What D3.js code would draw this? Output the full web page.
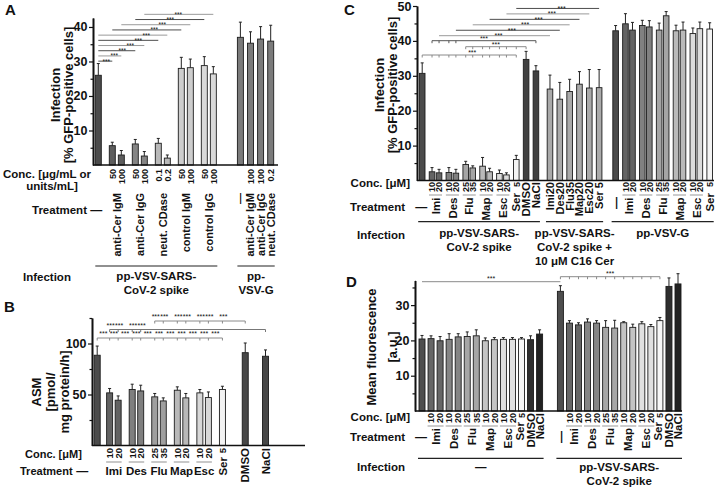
<!DOCTYPE html>
<html>
<head>
<meta charset="utf-8">
<script src="https://cdn.jsdelivr.net/npm/d3@7"></script>
<style>
  body { margin: 0; background: #fff; }
  svg text { font-family: "Liberation Sans", Arial, Helvetica, sans-serif; font-weight: bold; fill: #111; }
</style>
</head>
<body>
<svg id="fig" width="719" height="488"></svg>
<script>
// ---------------- data ----------------
// Panel A
const aTreatment = ["—", "anti-Cer IgM", "anti-Cer IgM", "anti-Cer IgG", "anti-Cer IgG", "neut. CDase", "neut. CDase",
  "control IgM", "control IgM", "control IgG", "control IgG", "—", "anti-Cer IgM", "anti-Cer IgG", "neut. CDase"];
const aConc = ["", "50", "100", "50", "100", "0.1", "0.2", "50", "100", "50", "100", "", "100", "100", "0.2"];
const aInfection = ["spike", "spike", "spike", "spike", "spike", "spike", "spike", "spike", "spike", "spike", "spike",
  "G", "G", "G", "G"];
const aMean = [26.0, 5.6, 2.9, 6.1, 2.6, 6.3, 2.0, 28.0, 28.2, 28.8, 26.4, 37.0, 35.3, 36.5, 35.9];
const aErr = [3.4, 1.0, 1.3, 1.3, 1.3, 1.4, 0.9, 3.2, 2.5, 2.6, 2.1, 4.4, 3.3, 3.6, 4.6];
const aPairs = [[0, 1], [0, 2], [0, 3], [0, 4], [0, 5], [0, 6], [1, 7], [2, 8], [3, 9], [4, 10]];
const aInfectionNames = { spike: ["pp-VSV-SARS-", "CoV-2 spike"], G: ["pp-", "VSV-G"] };

// Panel B
const bTreatment = ["—", "Imi", "Imi", "Des", "Des", "Flu", "Flu", "Map", "Map", "Esc", "Esc", "Ser", "DMSO", "NaCl"];
const bConc = ["", "10", "20", "10", "20", "25", "35", "10", "20", "10", "20", "5", "", ""];
const bKind = ["ctrl", "drug", "drug", "drug", "drug", "drug", "drug", "drug", "drug", "drug", "drug", "drug", "vehicle", "vehicle"];
const bMean = [88.5, 51.6, 44.4, 54.9, 53.5, 47.7, 43.7, 54.2, 46.7, 51.6, 47.0, 54.9, 91.0, 87.5];
const bErr = [9.0, 4.3, 4.2, 5.2, 5.6, 3.3, 3.0, 3.3, 4.3, 3.3, 5.5, 3.2, 9.5, 6.2];

// Panel C
const cTreatment = ["—", "Imi", "Imi", "Des", "Des", "Flu", "Flu", "Map", "Map", "Esc", "Esc", "Ser", "DMSO", "NaCl",
  "Imi", "Des", "Flu", "Map", "Esc", "Ser",
  "—", "Imi", "Imi", "Des", "Des", "Flu", "Flu", "Map", "Map", "Esc", "Esc", "Ser"];
const cConc = ["", "10", "20", "10", "20", "25", "35", "10", "20", "10", "20", "5", "", "",
  "20", "20", "35", "20", "20", "5",
  "", "10", "20", "10", "20", "25", "35", "10", "20", "10", "20", "5"];
const cInfection = ["spike", "spike", "spike", "spike", "spike", "spike", "spike", "spike", "spike", "spike", "spike", "spike", "spike", "spike",
  "cer", "cer", "cer", "cer", "cer", "cer",
  "G", "G", "G", "G", "G", "G", "G", "G", "G", "G", "G", "G"];
const cMean = [30.7, 2.5, 2.2, 2.3, 2.1, 4.6, 3.6, 4.1, 2.5, 2.0, 1.6, 6.0, 34.7, 31.4,
  26.2, 23.3, 25.5, 27.6, 26.5, 26.6,
  42.9, 44.9, 43.1, 44.4, 44.0, 43.1, 47.2, 42.9, 43.1, 42.1, 43.5, 43.4];
const cErr = [3.0, 1.2, 1.0, 1.4, 1.1, 0.9, 0.6, 2.5, 1.0, 1.0, 0.6, 1.2, 2.3, 1.5,
  4.0, 4.8, 3.5, 3.6, 5.3, 5.2,
  1.5, 2.9, 2.2, 1.5, 1.8, 2.0, 1.2, 1.6, 2.3, 1.6, 1.9, 1.8];
const cInfectionNames = { spike: ["pp-VSV-SARS-", "CoV-2 spike"], cer: ["pp-VSV-SARS-", "CoV-2 spike +", "10 μM C16 Cer"], G: ["pp-VSV-G"] };

// Panel D
const dTreatment = ["—", "Imi", "Imi", "Des", "Des", "Flu", "Flu", "Map", "Map", "Esc", "Esc", "Ser", "DMSO", "NaCl",
  "—", "Imi", "Imi", "Des", "Des", "Flu", "Flu", "Map", "Map", "Esc", "Esc", "Ser", "DMSO", "NaCl"];
const dConc = ["", "10", "20", "10", "20", "25", "35", "10", "20", "10", "20", "5", "", "",
  "", "10", "20", "10", "20", "25", "35", "10", "20", "10", "20", "5", "", ""];
const dInfection = ["none", "none", "none", "none", "none", "none", "none", "none", "none", "none", "none", "none", "none", "none",
  "spike", "spike", "spike", "spike", "spike", "spike", "spike", "spike", "spike", "spike", "spike", "spike", "spike", "spike"];
const dMean = [20.4, 20.5, 19.9, 20.3, 21.0, 21.1, 21.3, 19.9, 20.2, 20.3, 20.3, 20.4, 20.2, 21.8,
  33.9, 24.9, 24.4, 25.2, 24.9, 23.7, 23.5, 25.0, 23.7, 24.7, 23.9, 25.6, 35.3, 36.0];
const dErr = [1.0, 0.8, 1.2, 1.6, 0.9, 1.3, 1.7, 0.8, 0.6, 0.5, 0.5, 0.4, 1.1, 1.2,
  1.6, 0.7, 0.6, 0.9, 0.7, 1.9, 2.2, 0.3, 0.9, 0.6, 0.6, 0.9, 2.4, 2.9];
const dInfectionNames = { none: ["—"], spike: ["pp-VSV-SARS-", "CoV-2 spike"] };

// ---------------- helpers ----------------
const svg = d3.select("#fig");

// slot index of every bar: one unit per bar, extra room where the treatment or the infection changes
function slotsOf(treat, block, groupGap, blockGap) {
  let cur = 0;
  return treat.map((t, i) => {
    if (i > 0) {
      cur += 1;
      if (block[i] !== block[i - 1]) cur += blockGap[block[i]];
      else if (t !== treat[i - 1]) cur += groupGap[block[i]];
    }
    return cur;
  });
}

function groupsOf(treat, block) {
  const out = [];
  treat.forEach((t, i) => {
    const last = out[out.length - 1];
    if (last && last.t === t && last.b === block[i]) last.idx.push(i);
    else out.push({ t, b: block[i], idx: [i] });
  });
  return out;
}

function blocksOf(block) {
  const out = [];
  block.forEach((b, i) => {
    const last = out[out.length - 1];
    if (last && last.b === b) last.idx.push(i);
    else out.push({ b, idx: [i] });
  });
  return out;
}

function txt(g, x, y, s, size, anchor = "middle") {
  return g.append("text").attr("x", x).attr("y", y).attr("text-anchor", anchor)
    .style("font-size", size + "px").text(s);
}

// rotated text, reading bottom to top, its end at yTop
function vtxt(g, x, yTop, s, size) {
  return g.append("text").attr("transform", `translate(${x},${yTop}) rotate(-90)`)
    .attr("text-anchor", "end").attr("dy", "0.36em").style("font-size", size + "px").text(s);
}

function yTitle(g, lines, xs, yc, size) {
  lines.forEach((l, i) => g.append("text").attr("transform", `translate(${xs[i]},${yc}) rotate(-90)`)
    .attr("text-anchor", "middle").style("font-size", size + "px").text(l));
}

function yAxis(g, y, x0, major, minor) {
  const minorG = g.append("g").attr("transform", `translate(${x0},0)`)
    .call(d3.axisLeft(y).tickValues(minor).tickSize(2.5).tickSizeOuter(0).tickFormat(""));
  const majorG = g.append("g").attr("transform", `translate(${x0},0)`)
    .call(d3.axisLeft(y).tickValues(major).tickSize(4).tickSizeOuter(0).tickPadding(1.5));
  [minorG, majorG].forEach(a => {
    a.select(".domain").attr("stroke", "#111").attr("stroke-width", 1.6);
    a.selectAll(".tick line").attr("stroke", "#111").attr("stroke-width", 1.2);
  });
  majorG.selectAll(".tick text").style("font-size", "12.5px").attr("fill", "#111");
}

function bars(g, x, y, slots, mean, err, color, w) {
  const rows = mean.map((m, i) => ({ m, e: err[i], s: slots[i], i }));
  g.append("g").selectAll("rect").data(rows).join("rect")
    .attr("x", d => x(d.s) - w / 2).attr("width", w)
    .attr("y", d => y(d.m)).attr("height", d => y(0) - y(d.m))
    .attr("fill", d => color(d.i)).attr("stroke", "#1c1c1c").attr("stroke-width", 0.9);
  const eg = g.append("g").attr("stroke", "#222").attr("stroke-width", 1);
  eg.selectAll("line.v").data(rows).join("line").attr("class", "v")
    .attr("x1", d => x(d.s)).attr("x2", d => x(d.s))
    .attr("y1", d => y(d.m)).attr("y2", d => y(d.m + d.e));
  eg.selectAll("line.c").data(rows).join("line").attr("class", "c")
    .attr("x1", d => x(d.s) - 1.5).attr("x2", d => x(d.s) + 1.5)
    .attr("y1", d => y(d.m + d.e)).attr("y2", d => y(d.m + d.e));
}

function xLine(g, x0, x1, yy) {
  g.append("line").attr("x1", x0).attr("x2", x1).attr("y1", yy).attr("y2", yy)
    .attr("stroke", "#111").attr("stroke-width", 1.6);
}

function stars(g, cx, ly, size = 7) {
  txt(g, cx, ly + 2.4, "***", size).style("font-weight", "normal").attr("fill", "#555");
}

function sigLine(g, x0, x1, ly, col, ticks = []) {
  g.append("line").attr("x1", x0).attr("x2", x1).attr("y1", ly).attr("y2", ly)
    .attr("stroke", col).attr("stroke-width", 1);
  ticks.forEach(tx => g.append("line").attr("x1", tx).attr("x2", tx).attr("y1", ly).attr("y2", ly + 2.5)
    .attr("stroke", col).attr("stroke-width", 1));
}

const sigCols = ["#4d4d4d", "#9a9a9a"];

// =============== Panel A ===============
(function () {
  const g = svg.append("g");
  const s = slotsOf(aTreatment, aInfection, { spike: 0.55, G: 0.12 }, { G: 2.0 });
  const x = d3.scaleLinear().domain([0, d3.max(s)]).range([98.3, 270.7]);
  const y = d3.scaleLinear().domain([0, 42.6]).range([165, 18]);
  const shade = d3.scaleOrdinal()
    .domain(["—", "anti-Cer IgM", "anti-Cer IgG", "neut. CDase", "control IgM", "control IgG"])
    .range(["#4b4b4b", "#5d5d5d", "#858585", "#b9b9b9", "#cdcdcd", "#d9d9d9"]);
  const color = i => aInfection[i] === "G" ? "#7b7b7b" : shade(aTreatment[i]);

  txt(g, 5, 15, "A", 15, "start");
  yTitle(g, ["Infection", "[% GFP-positive cells]"], [60, 73], 95, 13);
  bars(g, x, y, s, aMean, aErr, color, 6);
  yAxis(g, y, 93, [10, 20, 30, 40], [5, 15, 25, 35]);
  xLine(g, 93, 278, y(0));

  // stacked comparison lines, the *** labels stepping right so they never collide
  aPairs.forEach(([a, b], k) => {
    const ly = y(30.1) - 5.2 * k;
    sigLine(g, x(s[a]), x(s[b]), ly, sigCols[k % 2]);
    stars(g, x(s[0]) + 8 + 8 * k, ly, 6.5);
  });

  txt(g, 47, 178, "Conc. [μg/mL or", 11.5);
  txt(g, 52, 190, "units/mL]", 11.5);
  txt(g, 32, 214, "Treatment", 11.5, "start");
  txt(g, 23, 281, "Infection", 11.5, "start");

  aConc.forEach((c, i) => { if (c) vtxt(g, x(s[i]), 169, c, 9); });
  groupsOf(aTreatment, aInfection).forEach(gr => {
    const cx = d3.mean(gr.idx, i => x(s[i]));
    if (gr.t === "—" && gr.b === "spike") txt(g, cx - 2, 214, "—", 12);
    else vtxt(g, cx, 193, gr.t, 11);
  });
  blocksOf(aInfection).forEach(bk => {
    const x0 = x(s[bk.idx[0]]) - 3, x1 = x(s[bk.idx[bk.idx.length - 1]]) + 4;
    g.append("line").attr("x1", x0).attr("x2", x1).attr("y1", 266).attr("y2", 266)
      .attr("stroke", "#222").attr("stroke-width", 1.2);
    aInfectionNames[bk.b].forEach((l, j) => txt(g, (x0 + x1) / 2, 280 + 14 * j, l, 11.5));
  });
})();

// =============== Panel B ===============
(function () {
  const g = svg.append("g");
  const s = slotsOf(bTreatment, bKind, { ctrl: 0, drug: 0.65, vehicle: 1.38 }, { drug: 0.46, vehicle: 1.68 });
  const x = d3.scaleLinear().domain([0, d3.max(s)]).range([97.2, 265.5]);
  const y = d3.scaleLinear().domain([0, 125]).range([445.5, 318]);
  const shade = d3.scaleOrdinal()
    .domain(["—", "Imi", "Des", "Flu", "Map", "Esc", "Ser", "DMSO", "NaCl"])
    .range(["#4b4b4b", "#626262", "#7f7f7f", "#9f9f9f", "#b9b9b9", "#d8d8d8", "#f3f3f3", "#474747", "#474747"]);
  const color = i => shade(bTreatment[i]);

  txt(g, 4, 312, "B", 15, "start");
  yTitle(g, ["ASM", "[pmol/", "mg protein/h]"], [41, 55, 69], 392, 13);
  bars(g, x, y, s, bMean, bErr, color, 6);
  yAxis(g, y, 92, [50, 100], [25, 75, 125]);
  xLine(g, 92, 305, y(0));

  // DMSO vs Flu ... Ser
  sigLine(g, x(s[5]), x(s[12]), 321, "#8a8a8a", d3.range(5, 13).map(i => x(s[i])));
  d3.range(5, 12).forEach(i => stars(g, x(s[i]) + 1, 317));
  // NaCl vs Imi / Des
  sigLine(g, x(s[1]), x(s[13]), 329.5, "#777", [1, 2, 3, 4, 13].map(i => x(s[i])));
  d3.range(1, 5).forEach(i => stars(g, x(s[i]) + 1, 325.5));
  // control vs each drug
  const lowY = 338;
  sigLine(g, x(s[0]), x(s[11]), lowY, "#8a8a8a", d3.range(0, 12).map(i => x(s[i])));
  d3.range(1, 12).forEach(i => stars(g, (x(s[i - 1]) + x(s[i])) / 2, lowY - 4));

  txt(g, 25, 458, "Conc. [μM]", 11, "start");
  txt(g, 20, 475, "Treatment", 11, "start");
  bConc.forEach((c, i) => { if (c) vtxt(g, x(s[i]), 448, c, 9.5); });
  groupsOf(bTreatment, bKind).forEach(gr => {
    const cx = d3.mean(gr.idx, i => x(s[i]));
    if (gr.t === "—") txt(g, cx - 15, 475, "—", 12);
    else if (gr.idx.length === 2) {
      g.append("line").attr("x1", x(s[gr.idx[0]]) - 3.5).attr("x2", x(s[gr.idx[1]]) + 3.5)
        .attr("y1", 462).attr("y2", 462).attr("stroke", "#aaa").attr("stroke-width", 1.3);
      txt(g, cx, 475, gr.t, 11.5);
    } else if (bConc[gr.idx[0]]) vtxt(g, cx, 457, gr.t, 11.5);
    else vtxt(g, cx, 448, gr.t, 11.5);
  });
})();

// =============== Panel C ===============
(function () {
  const g = svg.append("g");
  const s = slotsOf(cTreatment, cInfection, { spike: 0.4, cer: 0.4, G: 0.4 }, { cer: 1.0, G: 1.35 });
  const x = d3.scaleLinear().domain([0, d3.max(s)]).range([422.2, 709.7]);
  const y = d3.scaleLinear().domain([0, 50]).range([180.5, 6]);
  const shade = d3.scaleOrdinal()
    .domain(["—", "Imi", "Des", "Flu", "Map", "Esc", "Ser", "DMSO", "NaCl"])
    .range(["#4b4b4b", "#646464", "#808080", "#a5a5a5", "#b9b9b9", "#dcdcdc", "#f4f4f4", "#404040", "#404040"]);
  const color = i => cInfection[i] === "cer" ? "#aaaaaa" : shade(cTreatment[i]);

  txt(g, 344, 15, "C", 15, "start");
  yTitle(g, ["Infection", "[% GFP-positive cells]"], [384, 396.5], 85, 13);
  bars(g, x, y, s, cMean, cErr, color, 5.6);
  yAxis(g, y, 417, [10, 20, 30, 40, 50], [5, 15, 25, 35, 45]);
  xLine(g, 417, 714, y(0));

  // untreated vs drugs
  sigLine(g, x(s[0]), x(s[11]), 55, "#8a8a8a", d3.range(0, 12).map(i => x(s[i])));
  stars(g, (x(s[0]) + x(s[11])) / 2 + 3, 52.5);
  // DMSO vs Flu..Ser
  sigLine(g, x(s[5]), x(s[12]), 46.7, "#8a8a8a", [5, 6, 7, 8, 9, 10, 11, 12].map(i => x(s[i])));
  stars(g, (x(s[5]) + x(s[12])) / 2, 44.2);
  // NaCl vs Imi/Des
  sigLine(g, x(s[1]), x(s[13]), 40.7, "#555", [1, 2, 3, 4, 13].map(i => x(s[i])));
  stars(g, (x(s[1]) + x(s[13])) / 2, 38.2);
  // drug vs drug + C16 ceramide
  [[2, 14], [4, 15], [6, 16], [8, 17], [10, 18], [11, 19]].forEach(([a, b], k) => {
    const ly = 35.7 - 5.45 * k;
    sigLine(g, x(s[a]), x(s[b]), ly, sigCols[(k + 1) % 2]);
    stars(g, (x(s[a]) + x(s[b])) / 2 + 4, ly);
  });

  txt(g, 410, 187, "Conc. [μM]", 11.5, "end");
  txt(g, 405, 211, "Treatment", 11.5, "end");
  txt(g, 405, 239, "Infection", 11.5, "end");

  groupsOf(cTreatment, cInfection).forEach(gr => {
    const cx = d3.mean(gr.idx, i => x(s[i]));
    if (gr.b === "cer") {
      const c = cConc[gr.idx[0]];
      vtxt(g, cx, 182, gr.t + (c.length === 1 ? " " : "") + c, 11);
      return;
    }
    gr.idx.forEach(i => { if (cConc[i]) vtxt(g, x(s[i]), 182, cConc[i], 9); });
    if (gr.t === "—") {
      if (gr.b === "spike") txt(g, cx - 1, 211, "—", 12);
      else vtxt(g, cx, 197, "—", 12);
    } else if (gr.idx.length === 2) {
      g.append("line").attr("x1", x(s[gr.idx[0]]) - 3).attr("x2", x(s[gr.idx[1]]) + 3)
        .attr("y1", 195).attr("y2", 195).attr("stroke", "#aaa").attr("stroke-width", 1.2);
      vtxt(g, cx, 197.5, gr.t, 11.5);
    } else if (cConc[gr.idx[0]]) vtxt(g, cx, 193, gr.t, 11.5);
    else vtxt(g, cx, 182, gr.t, 11.5);
  });
  blocksOf(cInfection).forEach(bk => {
    const x0 = x(s[bk.idx[0]]) - 4, x1 = x(s[bk.idx[bk.idx.length - 1]]) + 4;
    g.append("line").attr("x1", x0).attr("x2", x1).attr("y1", 221.7).attr("y2", 221.7)
      .attr("stroke", "#222").attr("stroke-width", 1.2);
    cInfectionNames[bk.b].forEach((l, j) => txt(g, (x0 + x1) / 2, 237 + 14 * j, l, 11.5));
  });
})();

// =============== Panel D ===============
(function () {
  const g = svg.append("g");
  const s = slotsOf(dTreatment, dInfection, { none: 0, spike: 0 }, { spike: 1.3 });
  const x = d3.scaleLinear().domain([0, d3.max(s)]).range([422, 678]);
  const y = d3.scaleLinear().domain([0, 37]).range([411, 280.4]);
  const shade = d3.scaleOrdinal()
    .domain(["—", "Imi", "Des", "Flu", "Map", "Esc", "Ser", "DMSO", "NaCl"])
    .range(["#4e4e4e", "#666666", "#858585", "#a6a6a6", "#c4c4c4", "#e0e0e0", "#f7f7f7", "#2e2e2e", "#222222"]);
  const color = i => shade(dTreatment[i]);

  txt(g, 346, 287, "D", 15, "start");
  yTitle(g, ["Mean fluorescence", "[a.u.]"], [376, 396.5], 347, 13);
  bars(g, x, y, s, dMean, dErr, color, 6);
  yAxis(g, y, 415, [10, 20, 30], [5, 15, 25, 35]);
  xLine(g, 415, 682, y(0));

  sigLine(g, x(s[0]), x(s[14]), 281.7, "#8a8a8a");
  stars(g, (x(s[0]) + x(s[14])) / 2, 278.7);
  sigLine(g, x(s[14]), x(s[25]), 276.7, "#8a8a8a", d3.range(14, 26).map(i => x(s[i])));
  stars(g, (x(s[14]) + x(s[25])) / 2, 273.7);

  txt(g, 410, 421, "Conc. [μM]", 11.5, "end");
  txt(g, 405, 441, "Treatment", 11.5, "end");
  txt(g, 405, 471, "Infection", 11.5, "end");

  groupsOf(dTreatment, dInfection).forEach(gr => {
    const cx = d3.mean(gr.idx, i => x(s[i]));
    gr.idx.forEach(i => { if (dConc[i]) vtxt(g, x(s[i]), 413, dConc[i], 9); });
    if (gr.t === "—") {
      if (gr.b === "none") txt(g, cx - 1, 441, "—", 12);
      else vtxt(g, cx, 431, "—", 12);
    } else if (gr.idx.length === 2) {
      g.append("line").attr("x1", x(s[gr.idx[0]]) - 3.5).attr("x2", x(s[gr.idx[1]]) + 3.5)
        .attr("y1", 426).attr("y2", 426).attr("stroke", "#aaa").attr("stroke-width", 1.2);
      vtxt(g, cx, 428, gr.t, 11.5);
    } else if (dConc[gr.idx[0]]) vtxt(g, cx - 2, 422, gr.t, 11.5);
    else vtxt(g, cx, 413, gr.t, 11.5);
  });
  blocksOf(dInfection).forEach(bk => {
    const x0 = x(s[bk.idx[0]]) - 4, x1 = x(s[bk.idx[bk.idx.length - 1]]) + 4;
    g.append("line").attr("x1", x0).attr("x2", x1).attr("y1", 458.3).attr("y2", 458.3)
      .attr("stroke", "#222").attr("stroke-width", 1.2);
    dInfectionNames[bk.b].forEach((l, j) => txt(g, (x0 + x1) / 2, 471 + 14 * j, l, 11.5));
  });
})();
</script>
</body>
</html>
